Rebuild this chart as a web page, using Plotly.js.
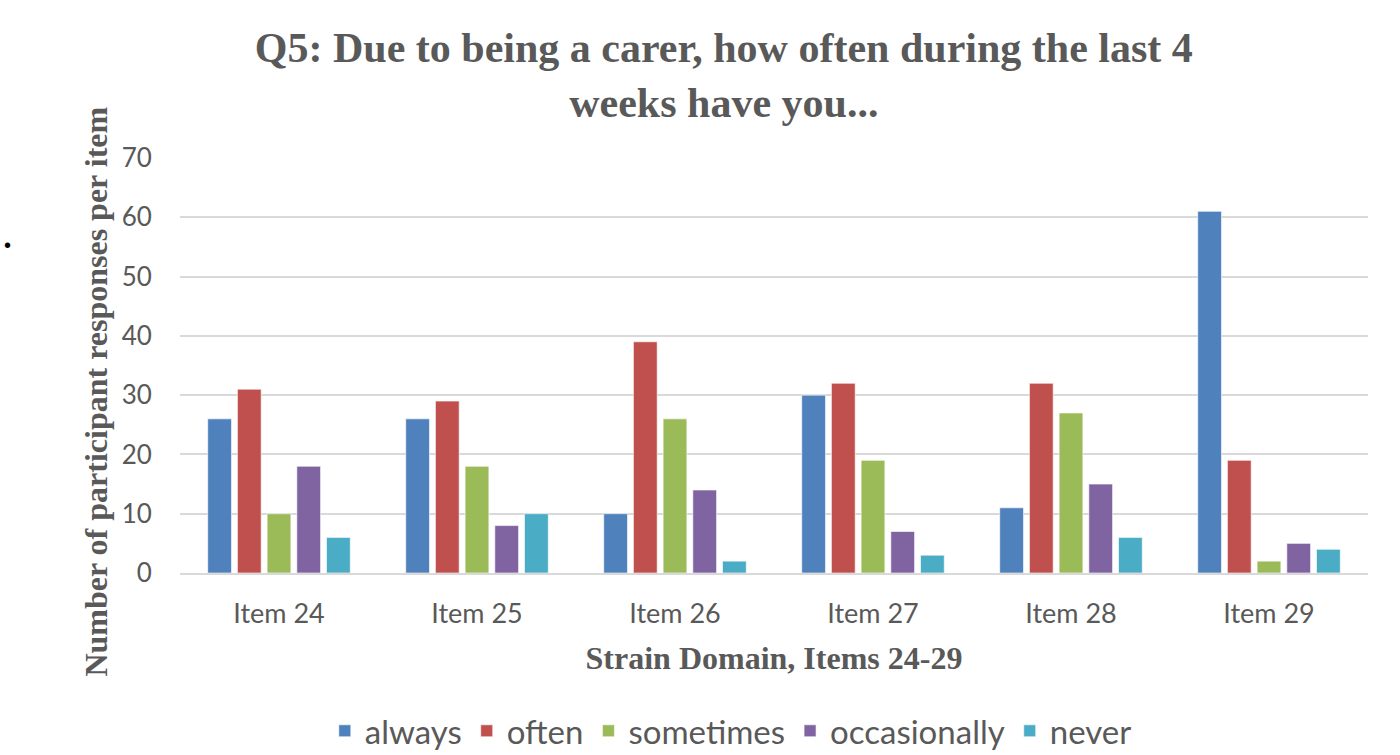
<!DOCTYPE html>
<html><head><meta charset="utf-8">
<script src="https://cdn.plot.ly/plotly-3.0.1.min.js"></script>
<style>body{margin:0;background:#fff}#chart{width:1400px;height:755px}</style>
</head><body><div id="chart"></div>
<script>
const categories = ["Item 24","Item 25","Item 26","Item 27","Item 28","Item 29"];
const seriesNames = ["always","often","sometimes","occasionally","never"];
const always = [26,26,10,30,11,61];
const often = [31,29,39,32,32,19];
const sometimes = [10,18,26,19,27,2];
const occasionally = [18,8,14,7,15,5];
const never = [6,10,2,3,6,4];
const yTicks = [0,10,20,30,40,50,60,70];
const colors = ["#4F81BD","#C0504D","#9BBB59","#8064A2","#4BACC6"];
const values = [always, often, sometimes, occasionally, never];

const traces = values.map((v,i)=>({
  type:'bar', name:seriesNames[i], x:categories, y:v,
  marker:{color:colors[i], line:{color:'rgba(255,255,255,0.6)', width:1}},
  hoverinfo:'x+y+name'
}));

const grey = '#595959';
const layout = {
  width:1400, height:755,
  margin:{l:180, r:32, t:158, b:182},
  paper_bgcolor:'#fff', plot_bgcolor:'#fff',
  barmode:'group', bargap:0.25, bargroupgap:0.2,
  title:{text:"Q5: Due to being a carer, how often during the last 4<br>weeks have you...",
    font:{family:"Liberation Serif, serif", size:42, color:grey, weight:700},
    x:0.517, xref:'container', xanchor:'center', y:0.918, yref:'container', yanchor:'middle'},
  xaxis:{type:'category', showgrid:false, showline:true, linecolor:'#d9d9d9', linewidth:2,
    automargin:false,
    tickfont:{family:"Lato, sans-serif", size:27, color:grey},
    ticks:'outside', ticklen:16, tickcolor:'rgba(0,0,0,0)',
    title:{text:"Strain Domain, Items 24-29", standoff:18,
      font:{family:"Liberation Serif, serif", size:32, color:grey, weight:700}}},
  yaxis:{range:[0,70], tickvals:yTicks, showgrid:true, gridcolor:'#d9d9d9', gridwidth:2,
    zeroline:false, showline:false, automargin:false,
    tickfont:{family:"Lato, sans-serif", size:26, color:grey},
    ticks:'outside', ticklen:22, tickcolor:'rgba(0,0,0,0)'},
  legend:{orientation:'h', x:0.522, xref:'container', xanchor:'center',
    y:0.032, yref:'container', yanchor:'middle',
    font:{family:"Lato, sans-serif", size:33, color:grey}, tracegroupgap:0},
  annotations:[
    {text:"Number of participant responses per item", textangle:-90, xref:'paper', yref:'paper',
      x:-0.0704, y:0.438, xanchor:'center', yanchor:'middle', showarrow:false,
      font:{family:"Liberation Serif, serif", size:32, color:grey, weight:700}},
    {text:"•", xref:'paper', yref:'paper', x:-0.1448, y:0.79, xanchor:'center', yanchor:'middle',
      showarrow:false, font:{family:"Liberation Sans, sans-serif", size:20, color:'#000'}}
  ]
};
Plotly.newPlot('chart', traces, layout, {displayModeBar:false, responsive:false});
</script></body></html>
